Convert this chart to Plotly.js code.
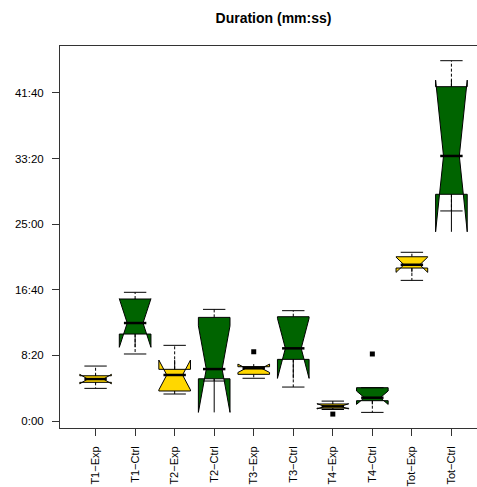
<!DOCTYPE html>
<html>
<head>
<meta charset="utf-8">
<script src="https://cdn.plot.ly/plotly-3.0.1.min.js"></script>
<style>
html, body { margin: 0; padding: 0; overflow: hidden; background: #fff; }
#chart { width: 490px; height: 487px; }
</style>
</head>
<body>
<div id="chart"></div>
<script>
// ---- data (seconds) ----
var categories = ["T1−Exp","T1−Ctrl","T2−Exp","T2−Ctrl","T3−Exp","T3−Ctrl","T4−Exp","T4−Ctrl","Tot−Exp","Tot−Ctrl"];

var expCats      = ["T1−Exp","T2−Exp","T3−Exp","T4−Exp","Tot−Exp"];
var expLower     = [249, 206, 326, 88, 1072];
var expQ1        = [295, 229, 356, 98, 1166];
var expMedian    = [320, 351, 402, 112, 1191];
var expQ3        = [345, 394, 414, 130, 1252];
var expUpper     = [419, 577, 414, 152, 1286];
var expNotch     = [36, 114, 32, 20, 58];

var ctrlCats     = ["T1−Ctrl","T2−Ctrl","T3−Ctrl","T4−Ctrl","Tot−Ctrl"];
var ctrlLower    = [511, 305, 259, 66, 1601];
var ctrlQ1       = [663, 322, 470, 155, 1728];
var ctrlMedian   = [747, 396, 554, 178, 2020];
var ctrlQ3       = [930, 790, 795, 254, 2548];
var ctrlUpper    = [981, 851, 841, 254, 2746];
var ctrlNotch    = [185, 330, 229, 51, 578];

var outlierCats   = ["T3−Exp","T4−Exp","T4−Ctrl"];
var outlierValues = [528, 53, 511];

var yTickVals  = [0, 500, 1000, 1500, 2000, 2500];
var yTickText  = ["0:00","8:20","16:40","25:00","33:20","41:40"];

// ---- build traces ----
function boxTrace(cats, q1, med, q3, notch, color) {
  return {
    type: "box",
    x: cats,
    q1: q1, median: med, q3: q3,
    lowerfence: q1, upperfence: q3,   // whiskers drawn separately (dashed)
    notchspan: notch,
    notched: true,
    notchwidth: 0.25,
    whiskerwidth: 0,
    width: 0.8,
    fillcolor: color,
    line: { color: "#000", width: 1 },
    boxpoints: false,
    hoverinfo: "skip",
    showlegend: false
  };
}

var allCats = expCats.concat(ctrlCats);
var allLo = expLower.concat(ctrlLower);
var allQ1 = expQ1.concat(ctrlQ1);
var allMed = expMedian.concat(ctrlMedian);
var allQ3 = expQ3.concat(ctrlQ3);
var allHi = expUpper.concat(ctrlUpper);

var wx = [], wy = [], sx = [], sy = [];
for (var i = 0; i < allCats.length; i++) {
  if (allHi[i] > allQ3[i]) { wx.push(allCats[i], allCats[i], null); wy.push(allQ3[i], allHi[i], null); }
  if (allLo[i] < allQ1[i]) { wx.push(allCats[i], allCats[i], null); wy.push(allQ1[i], allLo[i], null); }
  sx.push(allCats[i], allCats[i]); sy.push(allHi[i], allLo[i]);
}

var traces = [
  boxTrace(expCats, expQ1, expMedian, expQ3, expNotch, "#FFD700"),
  boxTrace(ctrlCats, ctrlQ1, ctrlMedian, ctrlQ3, ctrlNotch, "#006400"),
  { type: "scatter", mode: "lines", x: wx, y: wy, connectgaps: false,
    line: { color: "#000", width: 1, dash: "3px,2px" }, hoverinfo: "skip", showlegend: false },
  { type: "scatter", mode: "markers", x: sx, y: sy,
    marker: { symbol: "line-ew", size: 16, line: { color: "#000", width: 1 } }, hoverinfo: "skip", showlegend: false },
  { type: "scatter", mode: "markers", x: allCats, y: allMed,
    marker: { symbol: "line-ew", size: 16, line: { color: "#000", width: 2.5 } }, hoverinfo: "skip", showlegend: false },
  { type: "scatter", mode: "markers", x: outlierCats, y: outlierValues,
    marker: { symbol: "square", size: 5, color: "#000" }, hoverinfo: "skip", showlegend: false }
];

var fontFam = "Liberation Sans, Arial, Helvetica, sans-serif";
var layout = {
  width: 490, height: 487,
  margin: { l: 60, r: 3, t: 46, b: 59 },
  paper_bgcolor: "#fff", plot_bgcolor: "#fff",
  boxmode: "overlay",
  showlegend: false,
  font: { family: fontFam, size: 11.5, color: "#000" },
  title: { text: "<b>Duration (mm:ss)</b>", x: 0.5, xref: "paper", y: 0.963, yref: "container", yanchor: "middle",
           font: { family: fontFam, size: 14, color: "#000" } },
  xaxis: {
    type: "category", categoryorder: "array", categoryarray: categories,
    range: [-0.9, 9.9], showgrid: false, zeroline: false,
    showline: true, mirror: true, linecolor: "#333", linewidth: 1,
    ticks: "outside", ticklen: 7, tickcolor: "#333", ticklabelstandoff: 6,
    tickangle: -90, tickfont: { family: fontFam, size: 11, color: "#000" }
  },
  yaxis: {
    range: [-53, 2858], showgrid: false, zeroline: false,
    showline: true, mirror: true, linecolor: "#333", linewidth: 1,
    ticks: "outside", ticklen: 7, tickcolor: "#333", ticklabelstandoff: 6,
    tickvals: yTickVals, ticktext: yTickText,
    tickfont: { family: fontFam, size: 11.5, color: "#000" }
  }
};

Plotly.newPlot("chart", traces, layout, { staticPlot: true, displayModeBar: false });
</script>
</body>
</html>
